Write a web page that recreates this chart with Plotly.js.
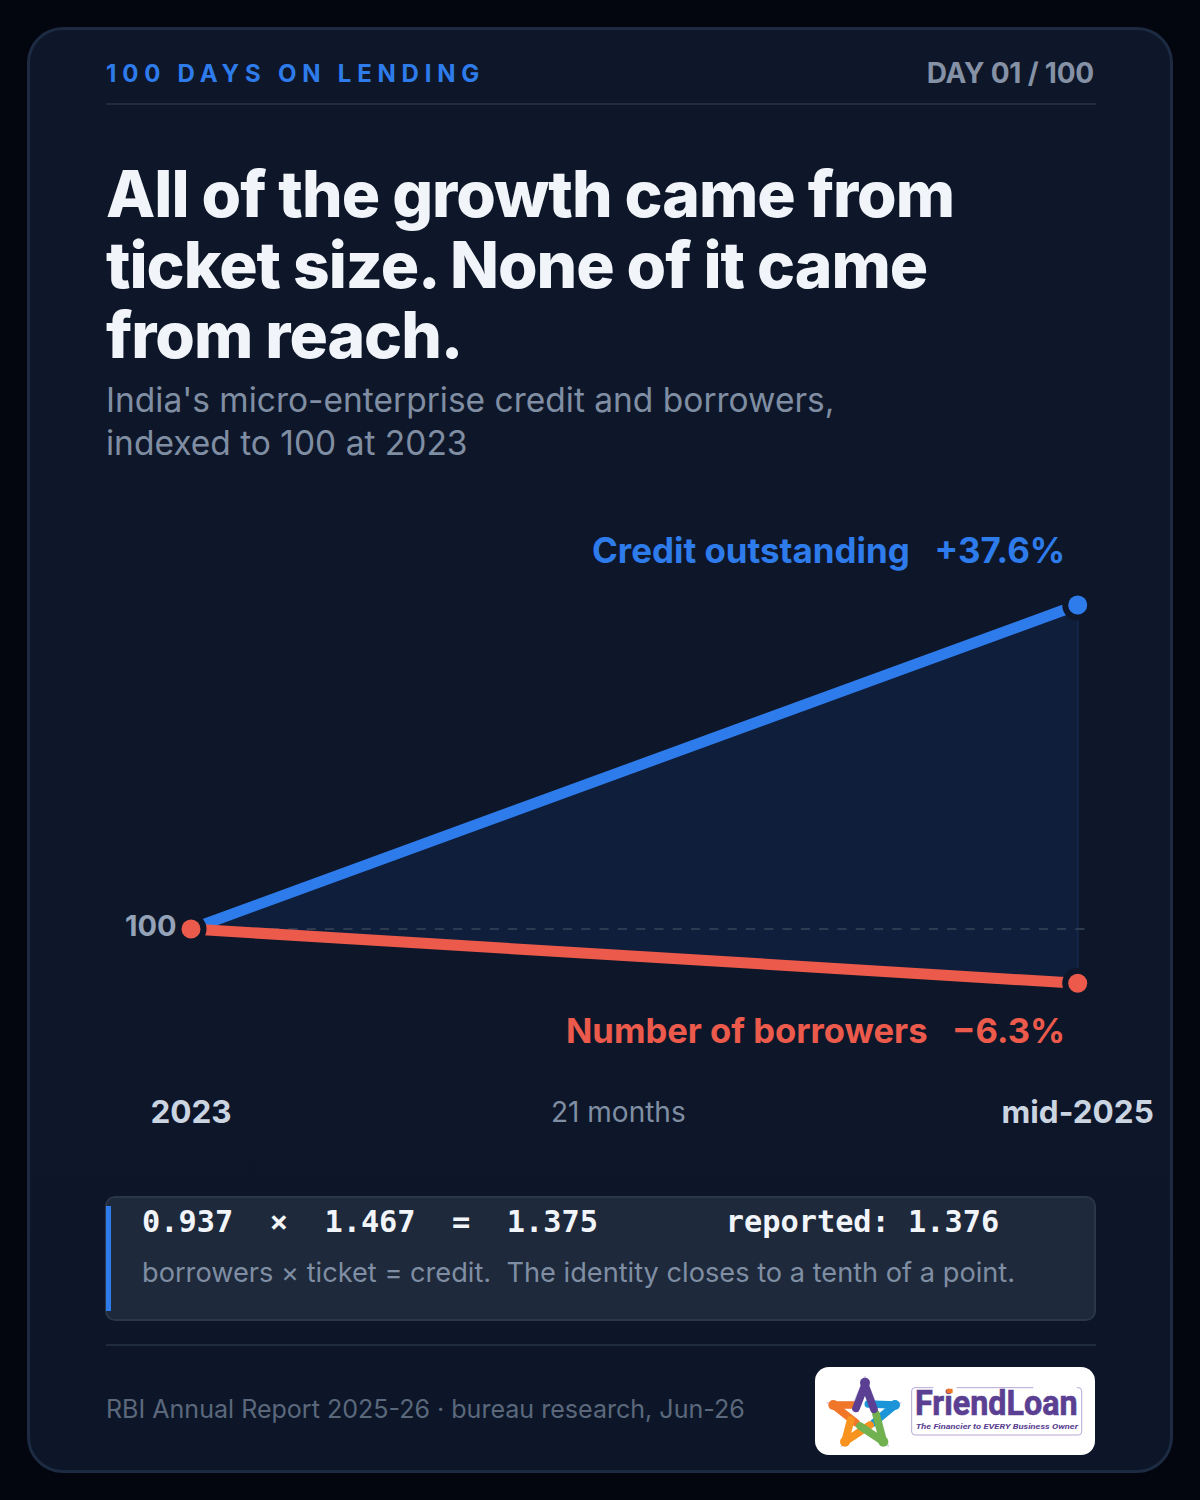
<!DOCTYPE html>
<html>
<head>
<meta charset="utf-8">
<script src="https://cdn.plot.ly/plotly-3.0.1.min.js"></script>
<style>
  html, body { margin: 0; padding: 0; width: 1200px; height: 1500px; background: #03060e; overflow: hidden; font-family: Inter, sans-serif; }
  .abs { position: absolute; white-space: pre; }
  #card { position: absolute; left: 27px; top: 27px; width: 1140px; height: 1440px; border: 3px solid #1c2a42; border-radius: 36px;
          background: linear-gradient(180deg, #0e1729 0%, #0e1729 70%, #0c1628 100%); }
  #chart { position: absolute; left: 0; top: 0; width: 1200px; height: 1500px; }
  #note { position: absolute; left: 105px; top: 1196px; width: 987px; height: 121px; background: #1e293b; border: 2px solid #2a3649; border-radius: 10px; }
  #noteBar { position: absolute; left: 106px; top: 1206px; width: 5px; height: 105px; background: #2e7cec; }
  .rule { position: absolute; left: 106px; width: 990px; height: 2px; background: #1f2b3e; }
  #logoBox { position: absolute; left: 815px; top: 1367px; width: 280px; height: 88px; background: #fff; border-radius: 14px; }
</style>
</head>
<body>
<div id="card"></div>

<div class="abs" style="left:106px;top:59px;font-size:24px;line-height:30px;font-weight:700;letter-spacing:5.8px;color:#2e7cec">100 DAYS ON LENDING</div>
<div class="abs" style="right:106px;top:56px;font-size:28px;line-height:34px;font-weight:700;letter-spacing:-0.2px;color:#8592a6">DAY 01 / 100</div>
<div class="rule" style="top:103px"></div>

<div class="abs" style="left:106px;top:159px;font-size:64px;line-height:70.5px;font-weight:800;letter-spacing:-1.0px;color:#f1f5f9">All of the growth came from
ticket size. None of it came
from reach.</div>
<div class="abs" style="left:106px;top:379px;font-size:33.5px;line-height:43px;font-weight:400;color:#808ea3">India's micro-enterprise credit and borrowers,
indexed to 100 at 2023</div>

<div id="chart"></div>

<div id="note"></div>
<div id="noteBar"></div>
<div class="abs" style="left:142px;top:1204px;font-family:'DejaVu Sans Mono',monospace;font-size:30.3px;line-height:36px;font-weight:700;color:#f1f5f9">0.937  ×  1.467  =  1.375       reported: 1.376</div>
<div class="abs" style="left:142px;top:1256px;font-size:27.2px;line-height:34px;color:#7f8ea3">borrowers × ticket = credit.  The identity closes to a tenth of a point.</div>

<div class="rule" style="top:1344px"></div>
<div class="abs" style="left:106px;top:1393px;font-size:25.05px;line-height:32px;color:#5b687c">RBI Annual Report 2025-26 · bureau research, Jun-26</div>

<div id="logoBox"></div>
<svg class="abs" style="left:800px;top:1340px" width="310" height="130" viewBox="0 0 930 390">
  <path d="M195 108 L226 184 L304 188 L242 238 L266 320 L193 274 L124 320 L146 238 L80 188 L162 184 Z" fill="none" stroke="#d9d2ea" stroke-width="3"/>
  <g fill="none" stroke-width="23" stroke-linecap="round">
    <path d="M100 195 L165 195 M100 195 L168 248" stroke="#f0762a"/>
    <path d="M285 195 L205 192 M285 195 L222 248" stroke="#1b95d8"/>
    <path d="M135 305 L152 240 M135 305 L210 255" stroke="#f7931e"/>
    <path d="M250 305 L228 222 M250 305 L180 258" stroke="#72b14f"/>
    <path d="M195 135 L168 205 M195 135 L222 208" stroke="#5b3f92"/>
  </g>
  <circle cx="195" cy="128" r="15" fill="#5b3f92"/>
  <circle cx="100" cy="195" r="15" fill="#f0762a"/>
  <circle cx="285" cy="195" r="15" fill="#1b95d8"/>
  <circle cx="135" cy="305" r="15" fill="#f7931e"/>
  <circle cx="250" cy="305" r="15" fill="#72b14f"/>
  <rect x="335" y="143" width="510" height="142" rx="10" fill="none" stroke="#a996cf" stroke-width="2.5"/>
  <rect x="400" y="130" width="70" height="20" fill="#fff"/>
  <rect x="700" y="130" width="130" height="20" fill="#fff"/>
  <text x="345" y="225" font-family="Roboto, sans-serif" font-weight="700" font-size="104" fill="#5b3f92" stroke="#5b3f92" stroke-width="2" textLength="488" lengthAdjust="spacingAndGlyphs">FriendLoan</text>
  <rect x="440" y="146" width="18" height="14" rx="3" fill="#f0762a"/>
  <text x="347" y="267" font-family="Roboto, sans-serif" font-weight="700" font-style="italic" font-size="24" fill="#5b3f92" textLength="487" lengthAdjust="spacingAndGlyphs">The Financier to EVERY Business Owner</text>
</svg>

<script>
const months = [0, 21];
const monthLabels = ['2023', 'mid-2025'];
const credit = [100, 137.6];
const borrowers = [100, 93.7];
const baselineX = [0.14, 21.22];
const baselineY = [100, 100];

const BLUE = '#2e7cec';
const RED = '#ec5a4c';
const CARD = '#0e1729';

const traces = [
  // shaded gap between the two series
  { x: months, y: credit, mode: 'lines', line: { width: 0 }, hoverinfo: 'skip' },
  { x: months, y: borrowers, mode: 'lines', line: { width: 0 }, fill: 'tonexty', fillcolor: '#0f1e3a', hoverinfo: 'skip' },
  { x: [21, 21], y: [credit[1], borrowers[1]], mode: 'lines', line: { color: '#14264a', width: 2 }, hoverinfo: 'skip' },
  { x: baselineX, y: baselineY, mode: 'lines', line: { color: '#2c3b50', width: 2, dash: '9.2px,9.1px' }, cliponaxis: false, hoverinfo: 'skip' },
  { x: months, y: credit, mode: 'lines', line: { color: BLUE, width: 11 }, hoverinfo: 'skip' },
  { x: months, y: borrowers, mode: 'lines', line: { color: RED, width: 11 }, hoverinfo: 'skip' },
  // halo behind the end dots
  { x: [0, 21, 21], y: [credit[0], credit[1], borrowers[1]], mode: 'markers', marker: { color: CARD, size: 31 }, cliponaxis: false, hoverinfo: 'skip' },
  { x: [21], y: [credit[1]], mode: 'markers', marker: { color: BLUE, size: 19 }, cliponaxis: false, hoverinfo: 'skip' },
  { x: [0, 21], y: borrowers, mode: 'markers', marker: { color: RED, size: 19 }, cliponaxis: false, hoverinfo: 'skip' }
];

const layout = {
  width: 1200, height: 1500,
  paper_bgcolor: 'rgba(0,0,0,0)', plot_bgcolor: 'rgba(0,0,0,0)',
  margin: { l: 191, r: 113.3, t: 520, b: 440, pad: 0 },
  showlegend: false,
  xaxis: {
    range: [0, 21.22], showgrid: false, zeroline: false, showline: false,
    tickmode: 'array', tickvals: months, ticktext: monthLabels,
    ticks: 'outside', ticklen: 24, tickcolor: 'rgba(0,0,0,0)',
    tickfont: { family: 'Inter', size: 31.5, weight: 700, color: '#cbd5e1' }
  },
  yaxis: { range: [84.8, 147.46], showgrid: false, zeroline: false, showline: false, showticklabels: false },
  annotations: [
    { x: 21, y: credit[1], xref: 'x', yref: 'y', xanchor: 'right', yanchor: 'middle', xshift: -11, yshift: 55, showarrow: false,
      text: 'Credit outstanding\u00a0\u00a0\u00a0+37.6%', font: { family: 'Inter', size: 34.9, weight: 700, color: BLUE } },
    { x: 21, y: borrowers[1], xref: 'x', yref: 'y', xanchor: 'right', yanchor: 'middle', xshift: -11, yshift: -47, showarrow: false,
      text: 'Number of borrowers\u00a0\u00a0\u00a0−6.3%', font: { family: 'Inter', size: 34.6, weight: 700, color: RED } },
    { x: 0, y: 100, xref: 'x', yref: 'y', xanchor: 'right', yanchor: 'middle', xshift: -12, yshift: 4, showarrow: false,
      text: '100', font: { family: 'Inter', size: 29, weight: 700, color: '#94a3b8' } },
    { x: 10.13, y: 84.8, xref: 'x', yref: 'y', xanchor: 'center', yanchor: 'middle', yshift: -52, showarrow: false,
      text: '21 months', font: { family: 'Inter', size: 28, color: '#808ea3' } }
  ]
};

Plotly.newPlot('chart', traces, layout, { displayModeBar: false, staticPlot: true });
</script>
</body>
</html>
